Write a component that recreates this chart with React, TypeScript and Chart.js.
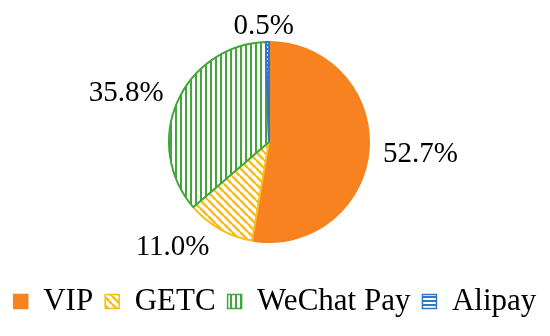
import React, { useEffect, useRef } from "react";
import { Chart, registerables } from "chart.js";

Chart.register(...registerables);

const categories = ["VIP", "GETC", "WeChat Pay", "Alipay"];
const shares = [52.7, 11.0, 35.8, 0.5];
const labelTexts = ["52.7%", "11.0%", "35.8%", "0.5%"];

const colors = ["#F7821F", "#F6BE16", "#42A63A", "#2C78CA"];
const patternKinds = ["solid", "diagonal", "vertical", "horizontal"];
const labelOffsets = [
  [7, 0],
  [-25, -21],
  [-10, 10],
  [-3, 29],
];

function makePattern(kind: string, color: string): CanvasPattern | string {
  if (kind === "solid") return color;
  const c = document.createElement("canvas");
  const ctx = c.getContext("2d")!;
  if (kind === "diagonal") {
    const s = 8;
    c.width = s;
    c.height = s;
    ctx.fillStyle = "#ffffff";
    ctx.fillRect(0, 0, s, s);
    ctx.strokeStyle = color;
    ctx.lineWidth = 2.6;
    for (let k = -1; k <= 1; k++) {
      ctx.beginPath();
      ctx.moveTo(0, k * s);
      ctx.lineTo(s, s + k * s);
      ctx.stroke();
    }
  } else if (kind === "vertical") {
    c.width = 5;
    c.height = 4;
    ctx.fillStyle = "#ffffff";
    ctx.fillRect(0, 0, 5, 4);
    ctx.fillStyle = color;
    ctx.fillRect(0, 0, 2, 4);
  } else {
    c.width = 4;
    c.height = 4;
    ctx.fillStyle = "#ffffff";
    ctx.fillRect(0, 0, 4, 4);
    ctx.fillStyle = color;
    ctx.fillRect(0, 0, 4, 2);
  }
  return ctx.createPattern(c, "repeat")!;
}

export default function App() {
  const ref = useRef<HTMLCanvasElement | null>(null);

  useEffect(() => {
    if (!ref.current) return;
    const fills = colors.map((c, i) => makePattern(patternKinds[i], c));

    const shiftPlugin = {
      id: "shiftArea",
      afterLayout(chart: any) {
        chart.chartArea.left -= 6;
        chart.chartArea.right -= 6;
      },
    };

    const labelPlugin = {
      id: "outerLabels",
      afterDatasetsDraw(chart: any) {
        const ctx = chart.ctx;
        const meta = chart.getDatasetMeta(0);
        ctx.save();
        ctx.font = '29px "Liberation Serif"';
        ctx.fillStyle = "#000";
        ctx.textAlign = "center";
        ctx.textBaseline = "middle";
        meta.data.forEach((arc: any, i: number) => {
          const p = arc.getProps(["x", "y", "startAngle", "endAngle", "outerRadius"], true);
          const mid = (p.startAngle + p.endAngle) / 2;
          const d = p.outerRadius + 45;
          const x = p.x + Math.cos(mid) * d + labelOffsets[i][0];
          const y = p.y + Math.sin(mid) * d + labelOffsets[i][1];
          ctx.fillText(labelTexts[i], x, y);
        });
        ctx.restore();
      },
    };

    const chart = new Chart(ref.current, {
      type: "pie",
      data: {
        labels: categories,
        datasets: [
          {
            data: shares,
            backgroundColor: fills as any,
            borderColor: colors,
            borderWidth: 2,
            radius: 100,
          } as any,
        ],
      },
      options: {
        animation: false,
        responsive: true,
        maintainAspectRatio: false,
        layout: { padding: { top: 10, bottom: 9, left: 0, right: 0 } },
        plugins: {
          tooltip: { enabled: false },
          legend: {
            position: "bottom",
            labels: {
              font: { family: "Liberation Serif", size: 31 },
              color: "#000",
              boxWidth: 14,
              boxHeight: 14,
              padding: 12,
              generateLabels: () =>
                categories.map((t, i) => ({
                  text: t,
                  fillStyle: fills[i] as any,
                  strokeStyle: colors[i],
                  lineWidth: 1.5,
                  hidden: false,
                  index: i,
                  datasetIndex: 0,
                  fontColor: "#000",
                })),
            },
          },
        },
      },
      plugins: [shiftPlugin, labelPlugin],
    });
    return () => chart.destroy();
  }, []);

  return (
    <div style={{ position: "absolute", left: 0, top: 0, width: 550, height: 336, background: "#fff" }}>
      <canvas ref={ref} />
    </div>
  );
}
